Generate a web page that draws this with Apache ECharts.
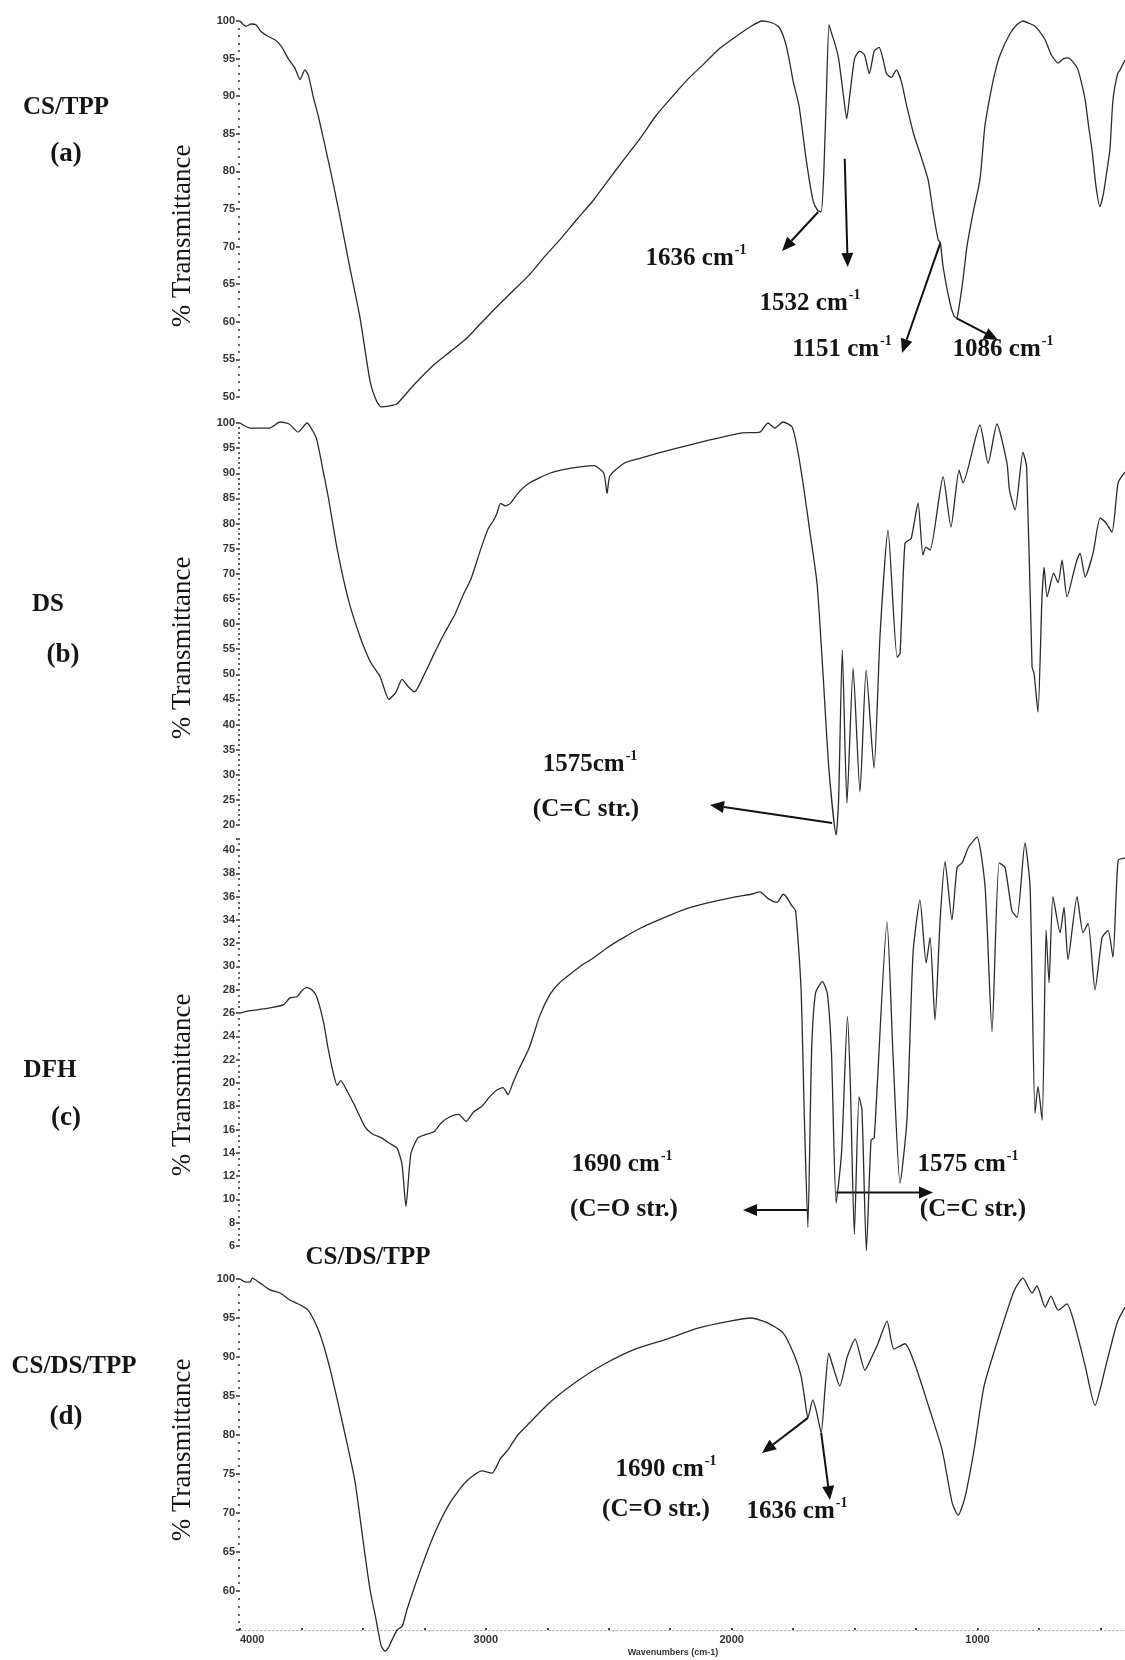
<!DOCTYPE html>
<html>
<head>
<meta charset="utf-8">
<script src="https://cdn.jsdelivr.net/npm/echarts/dist/echarts.min.js"></script>
<style>
  html, body { margin: 0; padding: 0; background: #ffffff; }
  #chart { width: 1125px; height: 1660px; }
</style>
</head>
<body>
<div id="chart"></div>
<script>
// FTIR spectra, wavenumber (cm-1) vs % transmittance

// (a) CS/TPP
const csTppWavenumber = [4000,3976,3955,3935,3915,3888,3858,3831,3804,3776,3756,3736,3722,3702,3681,3634,3597,3555,3512,3471,3445,3426,3395,3361,3296,3211,3146,3081,3020,2955,2890,2824,2760,2694,2630,2564,2500,2438,2370,2308,2240,2177,2110,2047,1980,1921,1876,1840,1811,1790,1771,1750,1726,1697,1669,1650,1636,1625,1615,1604,1595,1580,1565,1545,1532,1520,1500,1480,1460,1440,1420,1400,1385,1370,1350,1330,1310,1290,1260,1230,1201,1180,1160,1151,1140,1112,1096,1086,1079,1059,1043,1018,990,970,949,930,908,868,840,815,790,766,745,725,700,685,672,650,632,610,591,575,562,548,534,518,502,488,473,461,449,430,420,400];
const csTppTransmittance = [100,99.3,99.6,99.5,98.6,98.0,97.5,96.6,95.0,93.7,92.2,93.5,92.8,89.9,87.3,80.4,74.6,67.5,60.6,52.1,49.5,48.7,48.8,49.1,51.5,54.3,56.0,57.7,59.8,62.0,64.1,66.2,68.7,71.1,73.6,76.1,78.9,81.6,84.5,87.4,90.0,92.3,94.4,96.4,98.0,99.3,100,99.8,99.3,98.0,95.7,92.0,88.7,81.6,76.1,74.8,74.6,80,90,99.5,98.5,97,95,90,87,90,95,96,95.5,93,96,96.5,95,93,92.5,93.5,92,89,85,82,78.9,74.5,70.9,70.5,67.3,62.5,60.8,60.5,61.2,65.6,70.0,74.5,78.9,86,90,93,95.5,98.3,99.5,100,99.7,99.3,98.5,97.5,95.5,94.8,94.4,95,95.1,94.5,93.5,91.5,89.5,86,82.8,78,75.3,77,80.2,83,89.5,93,93.5,94.8];

// (b) DS
const dsWavenumber = [4000,3960,3919,3880,3837,3800,3764,3727,3705,3687,3660,3640,3605,3560,3512,3470,3430,3394,3365,3341,3315,3290,3250,3211,3170,3125,3090,3060,3020,2990,2970,2955,2940,2920,2900,2870,2824,2740,2653,2560,2520,2507,2495,2438,2370,2300,2222,2100,1962,1885,1852,1824,1791,1754,1734,1710,1681,1653,1630,1605,1575,1565,1550,1531,1506,1478,1453,1421,1396,1364,1327,1315,1295,1270,1242,1222,1210,1193,1140,1108,1075,1059,990,957,921,880,870,847,815,800,778,770,754,738,729,717,690,672,656,636,600,583,562,530,501,480,453,428,400];
const dsTransmittance = [100,99,99,99,100.2,99.8,98.2,100,98.5,96.6,90,85,75,65,57.5,52.5,49.5,45,46.5,49,47.5,46.5,50,54,58,62,66,69,75,79,80.5,82,84,83.5,84,86,88,90,91,91.5,90,86,89.5,92,93,94,95,96.5,98,98.2,100,99,100.2,99.2,95.2,88.1,78.1,68.2,51.4,31.5,18,25,54.8,24.4,51.2,26.6,50.8,31.3,58.2,78.7,53.4,54.2,76.1,77,84.1,73.7,75.3,74.7,89.3,79.3,90.6,88.1,99.6,92,99.8,92,86.7,82.7,94.2,91.2,51.4,50.2,42.5,64.8,71.3,65.4,70.1,68.2,72.7,65.4,72,74.1,69.4,74.1,81.1,80.3,78.3,88.1,90.2];

// (c) DFH
const dfhWavenumber = [4000,3960,3891,3824,3797,3769,3749,3729,3708,3688,3660,3642,3620,3605,3590,3577,3532,3491,3460,3426,3390,3361,3341,3325,3305,3276,3240,3211,3180,3146,3110,3081,3050,3016,2985,2955,2930,2910,2890,2865,2824,2780,2739,2700,2653,2610,2564,2500,2438,2370,2308,2240,2177,2110,2047,1980,1921,1885,1850,1816,1790,1775,1755,1740,1718,1704,1690,1675,1659,1631,1611,1594,1575,1553,1529,1517,1501,1482,1470,1452,1433,1420,1368,1344,1315,1287,1262,1234,1209,1193,1173,1152,1132,1104,1083,1063,1035,1002,969,941,912,888,860,839,807,786,766,754,737,721,709,693,664,648,632,595,571,550,522,493,469,449,428,400];
const dfhTransmittance = [26,26.2,26.4,26.7,27.3,27.4,27.9,28.2,28.0,27.4,25.2,23.0,20.8,19.8,20.2,19.8,18.0,16.2,15.6,15.3,14.8,14.4,13.0,9.4,13.9,15.3,15.6,15.8,16.6,17.1,17.3,16.7,17.5,18.0,18.8,19.4,19.6,19.0,20.0,21.2,23.0,25.8,27.6,28.6,29.4,30.1,30.7,31.7,32.5,33.3,33.9,34.5,35.0,35.4,35.7,36.0,36.2,36.4,35.8,35.5,36.2,35.9,35.2,34.8,28.2,16.8,7.6,22.6,27.7,28.7,27.7,22.6,9.7,14.0,25.7,19.7,7.0,18.8,17.7,5.6,15.1,15.3,33.8,22.6,11.4,16.8,31.2,35.7,30.3,32.5,25.4,34.0,39.0,34.0,38.5,38.9,40.3,41.1,36.8,24.4,38.9,38.5,34.8,34.2,40.6,36.8,17.4,19.7,16.8,33.1,28.6,36.0,32.9,35.1,30.6,36.0,32.9,33.7,28.0,32.5,33.1,30.8,39.1,39.3];

// (d) CS/DS/TPP
const csDsTppWavenumber = [4000,3976,3959,3950,3919,3878,3837,3797,3756,3723,3687,3662,3630,3597,3565,3532,3491,3470,3447,3426,3410,3395,3382,3361,3340,3320,3276,3211,3146,3081,3016,2975,2940,2910,2870,2824,2739,2629,2523,2393,2263,2137,2007,1921,1856,1791,1746,1718,1700,1690,1670,1655,1636,1620,1605,1590,1560,1530,1498,1458,1430,1405,1368,1340,1295,1254,1197,1144,1103,1079,1051,1014,973,908,851,815,778,758,725,701,672,636,607,563,522,477,432,400];
const csDsTppTransmittance = [100,99.6,99.6,100.1,99.5,98.6,98.2,97.3,96.7,96.0,93.9,91.7,88,83.5,79,74.0,64.5,60,56.4,53.0,52.3,52.8,53.7,55.0,55.5,57.7,61.8,67.2,71.3,74.0,75.4,75.1,77,78.1,80,81.5,84.2,86.9,89.0,91.0,92.3,93.7,94.6,95.0,94.4,93.1,90.3,87.6,84,82.2,84.5,83,80.3,86,90.5,89,86.3,90,92.3,88.3,90,91.7,94.6,91.0,91.7,89.0,83.5,78.1,71.3,69.7,72.0,78.1,86.3,93.1,98.5,100.1,98.2,99.1,96.4,97.8,96.0,96.8,94.4,89.0,83.8,89.0,94.4,96.4];

// x-axis ticks (every 250 cm-1), labelled at the thousands
const xTickLabels = [4000, 3000, 2000, 1000];

// ---------------------------------------------------------------------------
const series = [
  { wn: csTppWavenumber,   t: csTppTransmittance },
  { wn: dsWavenumber,      t: dsTransmittance },
  { wn: dfhWavenumber,     t: dfhTransmittance },
  { wn: csDsTppWavenumber, t: csDsTppTransmittance }
];

// panel layout: y-range and vertical placement of each spectrum
const layout = [
  { yMin: 50, yMax: 100, step: 5, minor: 5, top: 21,     height: 376 },
  { yMin: 20, yMax: 100, step: 5, minor: 5, top: 423,    height: 402 },
  { yMin: 6,  yMax: 41,  step: 2, minor: 4, top: 838.35, height: 407.65, hideMax: true },
  { yMin: 55, yMax: 100, step: 5, minor: 5, top: 1279,   height: 351, hideMin: true }
];

// 4000 cm-1 sits at x=240, 400 cm-1 at the right edge (x=1125);
// the axis runs on to 250 cm-1 just past the edge so the 250-step ticks line up
const PX_PER_UNIT = (1125 - 240) / 3600;
const GRID_WIDTH = (4000 - 250) * PX_PER_UNIT;

const axisFont = { fontFamily: 'Liberation Sans', fontWeight: 'bold', fontSize: 11, color: '#333' };

const grids = layout.map(l => ({
  left: 240, width: GRID_WIDTH, top: l.top, height: l.height,
  containLabel: false, outerBoundsMode: 'none'
}));

const xAxes = layout.map((l, i) => {
  const bottom = i === layout.length - 1;
  return {
    gridIndex: i, type: 'value', inverse: true, min: 250, max: 4000, interval: 250,
    show: bottom,
    axisLine: { show: true, lineStyle: { color: '#9a9a9a', width: 1, type: [1, 3] } },
    axisTick: { show: true, length: 2, inside: true, lineStyle: { color: '#444', width: 2 } },
    splitLine: { show: false },
    axisLabel: Object.assign({}, axisFont, {
      fontSize: 11, margin: 4,
      alignMaxLabel: 'left',
      formatter: v => (xTickLabels.indexOf(v) >= 0 ? String(v) : '')
    })
  };
});

const yAxes = layout.map((l, i) => ({
  gridIndex: i, type: 'value', min: l.yMin, max: l.yMax, interval: l.step,
  axisLine: { show: false },
  axisTick: { show: true, length: 4, lineStyle: { color: '#333', width: 1.5 } },
  minorTick: { show: true, splitNumber: l.minor, length: 2, lineStyle: { color: '#333', width: 1.6 } },
  splitLine: { show: false },
  minorSplitLine: { show: false },
  axisLabel: Object.assign({}, axisFont, {
    margin: 5,
    showMaxLabel: !l.hideMax,
    showMinLabel: !l.hideMin
  })
}));

const lineSeries = series.map((s, i) => ({
  type: 'line',
  xAxisIndex: i, yAxisIndex: i,
  data: s.wn.map((w, k) => [w, s.t[k]]),
  showSymbol: false,
  smooth: 0.2,
  clip: false,
  silent: true,
  lineStyle: { color: '#2b2b2b', width: 1.3 }
}));

const chart = echarts.init(document.getElementById('chart'));
chart.setOption({
  backgroundColor: '#ffffff',
  animation: false,
  grid: grids,
  xAxis: xAxes,
  yAxis: yAxes,
  series: lineSeries
});

// ---------------------------------------------------------------------------
// annotations
const SERIF = '"Liberation Serif", "Times New Roman", serif';

function valueAt(panel, wn) {
  const s = series[panel];
  const k = s.wn.indexOf(wn);
  return s.t[k];
}

function toPx(panel, wn, t) {
  return chart.convertToPixel({ gridIndex: panel }, [wn, t === undefined ? valueAt(panel, wn) : t]);
}

function arrow(x1, y1, x2, y2) {
  const a = Math.atan2(y2 - y1, x2 - x1);
  const L = 14, W = 6;
  const bx = x2 - L * Math.cos(a), by = y2 - L * Math.sin(a);
  const px = -Math.sin(a) * W, py = Math.cos(a) * W;
  return [
    { type: 'line', shape: { x1: x1, y1: y1, x2: bx, y2: by }, style: { stroke: '#111', lineWidth: 2 } },
    { type: 'polygon', shape: { points: [[x2, y2], [bx + px, by + py], [bx - px, by - py]] }, style: { fill: '#111' } }
  ];
}

function text(str, x, y, size, weight) {
  return {
    type: 'text', x: x, y: y,
    style: {
      text: str, fill: '#151515', align: 'center', verticalAlign: 'middle',
      font: (weight || 'bold') + ' ' + size + 'px ' + SERIF
    }
  };
}

function peak(num, x, y) {
  return {
    type: 'text', x: x, y: y,
    style: {
      text: '{n|' + num + '}{s|-1}',
      align: 'center', verticalAlign: 'middle',
      rich: {
        n: { fontFamily: SERIF, fontWeight: 'bold', fontSize: 25, fill: '#151515', lineHeight: 28, verticalAlign: 'bottom' },
        s: { fontFamily: SERIF, fontWeight: 'bold', fontSize: 14, fill: '#151515', lineHeight: 28, verticalAlign: 'top', padding: [0, 0, 0, 1] }
      }
    }
  };
}

const g = [];

// sample names, panel letters and y-axis titles
[
  ['CS/TPP', 66, 108, '(a)', 66, 154, 236],
  ['DS', 48, 605, '(b)', 63, 655, 648],
  ['DFH', 50, 1071, '(c)', 66, 1118, 1085],
  ['CS/DS/TPP', 74, 1367, '(d)', 66, 1417, 1450]
].forEach(p => {
  g.push(text(p[0], p[1], p[2], 25));
  g.push(text(p[3], p[4], p[5], 27));
  g.push({
    type: 'text', x: 183, y: p[6], rotation: Math.PI / 2,
    style: { text: '% Transmittance', fill: '#151515', align: 'center', verticalAlign: 'middle', font: '27px ' + SERIF }
  });
});
g.push(text('CS/DS/TPP', 368, 1258, 25));

// (a) CS/TPP bands
let p;
p = toPx(0, 1636); g.push(...arrow(p[0] - 3, p[1], 782, 251)); g.push(peak('1636 cm', 696, 257));
p = toPx(0, 1532); g.push(...arrow(p[0] - 2, p[1] + 40, p[0] + 1, 267)); g.push(peak('1532 cm', 810, 302));
p = toPx(0, 1151); g.push(...arrow(p[0], p[1], 902, 353)); g.push(peak('1151 cm', 842, 348));
p = toPx(0, 1086); g.push(...arrow(p[0], p[1], 998, 340)); g.push(peak('1086 cm', 1003, 348));

// (b) DS
p = toPx(1, 1575); g.push(...arrow(p[0] - 4, p[1] - 12, 710, 805));
g.push(peak('1575cm', 590, 763)); g.push(text('(C=C str.)', 586, 810, 25));

// (c) DFH: horizontal arrows crossing the band walls
p = toPx(2, 1690, 9.1); g.push(...arrow(p[0], p[1], 743, p[1]));
g.push(peak('1690 cm', 622, 1163)); g.push(text('(C=O str.)', 624, 1210, 25));
p = toPx(2, 1575, 10.6); g.push(...arrow(p[0], p[1], 933, p[1]));
g.push(peak('1575 cm', 968, 1163)); g.push(text('(C=C str.)', 973, 1210, 25));

// (d) CS/DS/TPP
p = toPx(3, 1690); g.push(...arrow(p[0], p[1], 762, 1453));
g.push(peak('1690 cm', 666, 1468)); g.push(text('(C=O str.)', 656, 1510, 25));
p = toPx(3, 1636); g.push(...arrow(p[0], p[1], 830, 1500));
g.push(peak('1636 cm', 797, 1510));

// x-axis title
g.push({
  type: 'text', x: 673, y: 1653,
  style: { text: 'Wavenumbers (cm-1)', fill: '#333', align: 'center', verticalAlign: 'middle',
           font: 'bold 9px "Liberation Sans", Arial, sans-serif' }
});

chart.setOption({ graphic: { elements: g } });
</script>
</body>
</html>
